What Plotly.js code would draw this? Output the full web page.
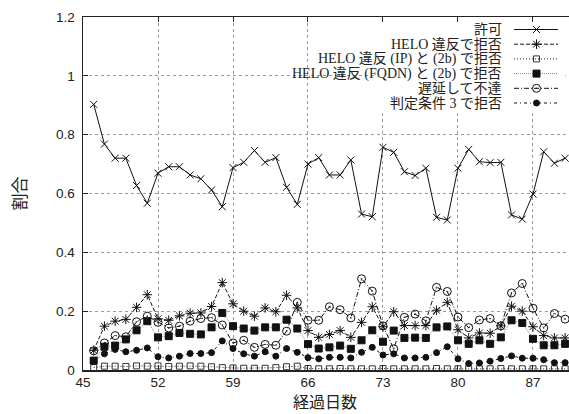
<!DOCTYPE html>
<html><head><meta charset="utf-8">
<script src="https://cdn.plot.ly/plotly-3.0.1.min.js"></script>
<style>html,body{margin:0;padding:0;overflow:hidden;background:#fff}</style>
</head><body><div id="chart" style="width:575px;height:414px"></div>
<script>
const days = [46,47,48,49,50,51,52,53,54,55,56,57,58,59,60,61,62,63,64,65,66,67,68,69,70,71,72,73,74,75,76,77,78,79,80,81,82,83,84,85,86,87,88,89,90];
const seriesNames = ["許可","HELO 違反で拒否","HELO 違反 (IP) と (2b) で拒否","HELO 違反 (FQDN) と (2b) で拒否","遅延して不達","判定条件 3 で拒否"];
const allowed = [0.903,0.768,0.720,0.720,0.627,0.567,0.669,0.691,0.691,0.663,
 0.650,0.612,0.555,0.688,0.706,0.746,0.706,0.722,0.621,0.563,
 0.700,0.722,0.663,0.663,0.714,0.530,0.521,0.757,0.740,0.674,
 0.661,0.686,0.519,0.510,0.686,0.750,0.708,0.705,0.706,0.527,
 0.513,0.598,0.742,0.703,0.720];
const heloReject = [0.067,0.149,0.166,0.172,0.213,0.256,0.174,0.169,0.184,0.193,
 0.194,0.216,0.297,0.225,0.200,0.183,0.211,0.198,0.254,0.211,
 0.134,0.111,0.121,0.134,0.111,0.162,0.215,0.147,0.198,0.151,
 0.151,0.151,0.203,0.230,0.137,0.109,0.126,0.125,0.150,0.217,
 0.200,0.147,0.117,0.109,0.109];
const heloIp = [0.008,0.013,0.013,0.012,0.014,0.013,0.014,0.012,0.013,0.014,
 0.013,0.011,0.008,0.007,0.006,0.006,0.006,0.008,0.011,0.013,
 0.005,0.004,0.004,0.005,0.004,0.004,0.004,0.005,0.004,0.004,
 0.004,0.004,0.005,0.004,0.004,0.004,0.004,0.004,0.005,0.004,
 0.004,0.004,0.004,0.004,0.004];
const heloFqdn = [0.032,0.079,0.083,0.104,0.135,0.166,0.111,0.115,0.126,0.123,
 0.121,0.145,0.194,0.149,0.141,0.134,0.145,0.145,0.171,0.141,
 0.088,0.073,0.077,0.083,0.072,0.101,0.135,0.096,0.134,0.109,
 0.110,0.109,0.145,0.148,0.101,0.089,0.101,0.089,0.111,0.169,
 0.160,0.106,0.084,0.084,0.089];
const delayed = [0.065,0.092,0.117,0.113,0.164,0.183,0.162,0.143,0.149,0.166,
 0.175,0.178,0.153,0.092,0.101,0.077,0.087,0.084,0.132,0.230,
 0.169,0.169,0.215,0.205,0.177,0.310,0.268,0.150,0.072,0.179,
 0.190,0.167,0.281,0.267,0.180,0.144,0.170,0.175,0.150,0.262,
 0.294,0.210,0.143,0.192,0.173];
const rule3 = [0.030,0.055,0.070,0.062,0.067,0.075,0.045,0.041,0.047,0.056,
 0.056,0.059,0.099,0.073,0.055,0.047,0.062,0.047,0.073,0.060,
 0.042,0.038,0.043,0.043,0.041,0.060,0.077,0.051,0.055,0.041,
 0.041,0.043,0.059,0.079,0.038,0.022,0.024,0.030,0.039,0.048,
 0.040,0.040,0.035,0.025,0.025];
const yTicks = [0,0.2,0.4,0.6,0.8,1,1.2];
const xTicks = [45,52,59,66,73,80,87];

const values = [allowed, heloReject, heloIp, heloFqdn, delayed, rule3];
const styles = [
  {dash:'solid', color:'#111', sym:'x-thin-open', size:7, lc:'#111'},
  {dash:'4px,2px', color:'#111', sym:'asterisk-open', size:8, lc:'#111'},
  {dash:'1px,2px', color:'#222', sym:'square-open', size:6, lc:'#333'},
  {dash:'1px,1px', color:'#888', sym:'square', size:7, lc:'#111'},
  {dash:'5px,2px,1px,2px', color:'#111', sym:'circle-open-dot', size:8, lc:'#111'},
  {dash:'3px,3px,1px,3px', color:'#111', sym:'circle', size:6, lc:'#111'}
];

const traces = [];
values.forEach((v,i)=>{
  const s = styles[i];
  traces.push({
    x: days, y: v, name: seriesNames[i], type:'scatter', mode:'lines+markers',
    line:{color:s.color, width:1, dash:s.dash},
    marker:{symbol:s.sym, size:s.size, color:s.lc, line:{color:s.lc, width:1}},
    showlegend:false, hoverinfo:'skip'
  });
});

// manual legend (symbol on the right of right-aligned text), in pixel units on overlay axes
const legTop = 29.5, legStep = 14.7, legTextX = 504, legX0 = 514, legX1 = 558, legMid = 536.5;
const annotations = [];
seriesNames.forEach((n,i)=>{
  const s = styles[i];
  const yy = legTop + i*legStep;
  traces.push({
    x:[legX0, legMid, legX1], y:[yy,yy,yy], xaxis:'x2', yaxis:'y2', type:'scatter', mode:'lines+markers',
    line:{color:s.color, width:1, dash:s.dash},
    marker:{symbol:s.sym, size:s.size, color:s.lc, opacity:[0,1,0], line:{color:s.lc, width:1}},
    showlegend:false, hoverinfo:'skip'
  });
  annotations.push({
    xref:'x2', yref:'y2', x:legTextX, y:yy, xanchor:'right', yanchor:'middle', showarrow:false,
    text:n, font:{family:'Liberation Serif, Noto Sans CJK JP, serif', size:14, color:'#222'}
  });
});
annotations.push({xref:'paper', yref:'paper', x:-0.132, y:0.5, xanchor:'center', yanchor:'middle',
  textangle:-90, showarrow:false, text:'割合', font:{family:'Noto Sans CJK JP', size:17, color:'#222'}});
annotations.push({xref:'paper', yref:'paper', x:(325-83)/492, y:-(401-370)/353, xanchor:'center', yanchor:'middle',
  showarrow:false, borderpad:0, text:'経過日数', font:{family:'Noto Sans CJK JP', size:16, color:'#222'}});

const axisCommon = {
  showline:true, linecolor:'#222', linewidth:1.5, mirror:'ticks', ticks:'inside', ticklen:5,
  tickcolor:'#222', showgrid:true, gridcolor:'#999', griddash:'dot', gridwidth:1, zeroline:false,
  tickfont:{family:'Liberation Sans, Arial, sans-serif', size:13.5, color:'#222'}
};
const layout = {
  width:575, height:414, margin:{l:83, r:0, t:17, b:44},
  paper_bgcolor:'#fff', plot_bgcolor:'#fff',
  xaxis: Object.assign({}, axisCommon, {range:[45, 45+492/10.714], tickvals:xTicks, ticktext:xTicks.map(String), ticklabelstandoff:-1}),
  yaxis: Object.assign({}, axisCommon, {range:[0,1.2], tickvals:yTicks, ticktext:yTicks.map(String), ticklabelstandoff:4}),
  xaxis2: {overlaying:'x', anchor:'y2', range:[83,575], visible:false, fixedrange:true},
  yaxis2: {overlaying:'y', anchor:'x2', range:[370,17], visible:false, fixedrange:true},
  shapes:[{type:'rect', xref:'x', yref:'y', x0:72.4, x1:90.0, y0:0.88, y1:1.183,
    fillcolor:'#fff', line:{width:0}, layer:'between'}],
  annotations: annotations,
  showlegend:false
};
Plotly.newPlot('chart', traces, layout, {staticPlot:true, displayModeBar:false});
</script></body></html>
